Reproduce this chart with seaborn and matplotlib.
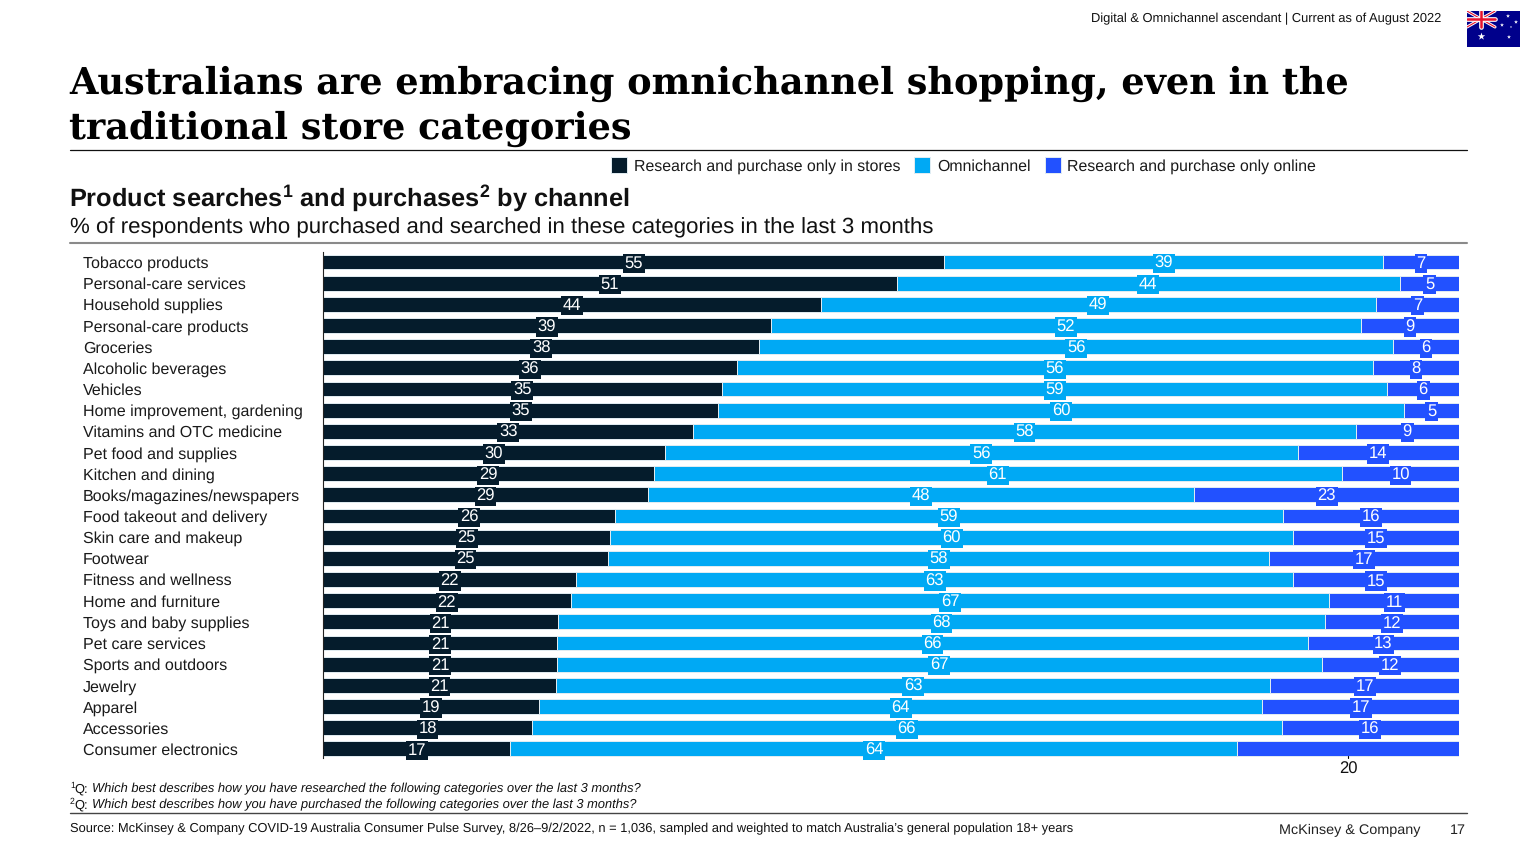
"""Omnichannel shopping slide: stacked horizontal bars by product category."""
import matplotlib
matplotlib.use("Agg")
import matplotlib.pyplot as plt
import numpy as np
import pandas as pd
import seaborn as sns

categories = [
    "Tobacco products", "Personal-care services", "Household supplies",
    "Personal-care products", "Groceries", "Alcoholic beverages", "Vehicles",
    "Home improvement, gardening", "Vitamins and OTC medicine",
    "Pet food and supplies", "Kitchen and dining", "Books/magazines/newspapers",
    "Food takeout and delivery", "Skin care and makeup", "Footwear",
    "Fitness and wellness", "Home and furniture", "Toys and baby supplies",
    "Pet care services", "Sports and outdoors", "Jewelry", "Apparel",
    "Accessories", "Consumer electronics",
]

# segment lengths as drawn in the picture
stores = [54.7, 50.5, 43.8, 39.4, 38.4, 36.4, 35.1, 34.8, 32.6, 30.1, 29.1, 28.6,
          25.7, 25.3, 25.1, 22.3, 21.8, 20.7, 20.6, 20.6, 20.5, 19.0, 18.4, 16.5]
omni = [38.6, 44.3, 48.9, 52.0, 55.8, 56.0, 58.6, 60.4, 58.3, 55.7, 60.6, 48.1,
        58.8, 60.1, 58.2, 63.1, 66.8, 67.5, 66.1, 67.3, 62.9, 63.7, 66.0, 64.0]
online = [6.7, 5.2, 7.3, 8.6, 5.8, 7.6, 6.3, 4.8, 9.1, 14.2, 10.3, 23.3,
          15.5, 14.6, 16.7, 14.6, 11.4, 11.8, 13.3, 12.1, 16.6, 17.3, 15.6, 19.5]

# printed labels
stores_labels = [55, 51, 44, 39, 38, 36, 35, 35, 33, 30, 29, 29,
                 26, 25, 25, 22, 22, 21, 21, 21, 21, 19, 18, 17]
omni_labels = [39, 44, 49, 52, 56, 56, 59, 60, 58, 56, 61, 48,
               59, 60, 58, 63, 67, 68, 66, 67, 63, 64, 66, 64]
online_labels = [7, 5, 7, 9, 6, 8, 6, 5, 9, 14, 10, 23,
                 16, 15, 17, 15, 11, 12, 13, 12, 17, 17, 16, 20]

channels = ["Research and purchase only in stores", "Omnichannel",
            "Research and purchase only online"]
colors = ["#051C2C", "#00A9F4", "#2251FF"]

W, H = 1536, 864
SANS = "Liberation Sans"


def fx(px):
    return px / W


def fy(px):
    return 1 - px / H


def rule(fig, x0, x1, y, color, lw):
    fig.add_artist(plt.Line2D([fx(x0), fx(x1)], [fy(y), fy(y)], color=color, lw=lw))


def draw_flag(fig):
    ax = fig.add_axes([fx(1467), fy(47), fx(53), 36 / H])
    ax.set_facecolor("#00008B")
    ax.set_xlim(0, 53)
    ax.set_ylim(36, 0)
    ax.set_xticks([])
    ax.set_yticks([])
    for side in ax.spines.values():
        side.set_visible(False)
    ax.plot([0, 28], [0, 16], color="white", lw=2.2)
    ax.plot([0, 28], [16, 0], color="white", lw=2.2)
    ax.plot([0, 28], [0, 16], color="#E8112D", lw=0.8)
    ax.plot([0, 28], [16, 0], color="#E8112D", lw=0.8)
    ax.plot([14, 14], [0, 16], color="white", lw=3.4)
    ax.plot([0, 28], [8, 8], color="white", lw=3.4)
    ax.plot([14, 14], [0, 16], color="#E8112D", lw=1.8)
    ax.plot([0, 28], [8, 8], color="#E8112D", lw=1.8)
    ax.scatter([14], [25], marker="*", s=32, color="white", lw=0)
    ax.scatter([41, 35, 49, 42, 44], [5, 14, 11, 26, 16], marker="*",
               s=[9, 9, 9, 9, 3], color="white", lw=0)


sns.set_theme(style="white")
plt.rcParams["font.family"] = SANS
plt.rcParams["text.hinting"] = "none"
plt.rcParams["mathtext.fontset"] = "custom"
plt.rcParams["mathtext.bf"] = "Liberation Sans:bold"
plt.rcParams["mathtext.rm"] = "Liberation Sans"

df = pd.DataFrame({"category": categories, "stores": stores, "omni": omni, "online": online})

fig = plt.figure(figsize=(W / 100, H / 100), dpi=100)
ax = fig.add_axes([fx(323), fy(758), fx(1459 - 323), (758 - 252) / H])

left = np.zeros(len(df))
for col, name, color, printed in zip(["stores", "omni", "online"], channels, colors,
                                     [stores_labels, omni_labels, online_labels]):
    sns.barplot(data=df, y="category", x=col, left=left, color=color, width=0.7,
                saturation=1, edgecolor="#E3EDF2", linewidth=0.7, label=name, ax=ax)
    mids = left + df[col].to_numpy() / 2
    for i, (mid, val) in enumerate(zip(mids, printed)):
        if i == len(categories) - 1 and col == "online":
            # no room inside the bar on this row, label sits below with a leader
            ax.plot([mid, mid], [i + 0.35, i + 0.43], color="black", lw=0.8, clip_on=False)
            ax.text(mid, i + 0.58, str(val), ha="center", va="top", fontsize=12,
                    color="#111111", clip_on=False)
            continue
        ax.text(mid, i + 0.07, str(val), ha="center", va="center", color="white", fontsize=12,
                bbox=dict(boxstyle="square,pad=0.1", fc=color, ec="none"), zorder=5)
    left = left + df[col].to_numpy()

ax.set_xlim(0, 100)
ax.set_ylim(23.43, -0.47)
ax.set_xlabel("")
ax.set_ylabel("")
ax.set_xticks([])
ax.tick_params(axis="y", length=0, pad=172.8, labelsize=11.5, labelcolor="#1a1a1a")
for lab in ax.get_yticklabels():
    lab.set_ha("left")
sns.despine(ax=ax, top=True, right=True, bottom=True)
ax.spines["left"].set_color("#222222")
ax.spines["left"].set_linewidth(0.8)

handles, labels = ax.get_legend_handles_labels()
ax.get_legend().remove()
fig.legend(handles, labels, ncol=3, frameon=False, loc="center left",
           bbox_to_anchor=(fx(597), fy(165.5)), fontsize=11.4, handlelength=1.0,
           handleheight=1.15, handletextpad=0.42, columnspacing=0.9, labelcolor="#1a1a1a")

# header, titles
fig.text(fx(1441), fy(18.5), "Digital & Omnichannel ascendant | Current as of August 2022",
         ha="right", va="center", fontsize=9.3, color="#111111")
draw_flag(fig)
fig.text(fx(69), fy(84), "Australians are embracing omnichannel shopping, even in the",
         family="DejaVu Serif", weight="bold", fontsize=26.35, va="center", color="black")
fig.text(fx(69), fy(129), "traditional store categories",
         family="DejaVu Serif", weight="bold", fontsize=26.35, va="center", color="black")
rule(fig, 70, 1467, 150, "#111111", 0.9)
fig.text(fx(69), fy(198), r"Product searches$\mathbf{^1}$ and purchases$\mathbf{^2}$ by channel",
         weight="bold", fontsize=18.3, va="center", color="#111111")
fig.text(fx(70), fy(227.5), "% of respondents who purchased and searched in these categories in the last 3 months",
         fontsize=16.07, va="center", color="#111111")
rule(fig, 70, 1467, 243, "#8A8A8A", 1.5)

# footnotes
for y, num, note in [
    (789, "1", "Which best describes how you have researched the following categories over the last 3 months?"),
    (805, "2", "Which best describes how you have purchased the following categories over the last 3 months?"),
]:
    fig.text(fx(70), fy(y - 3), num, fontsize=6.2, va="center", color="#111111")
    fig.text(fx(74), fy(y), "Q:", fontsize=9.27, va="center", color="#111111")
    fig.text(fx(92), fy(y), note, fontsize=9.27, style="italic", va="center", color="#111111")
rule(fig, 70, 1467, 813, "#444444", 1.0)
fig.text(fx(70), fy(829),
         "Source: McKinsey & Company COVID-19 Australia Consumer Pulse Survey, 8/26–9/2/2022, "
         "n = 1,036, sampled and weighted to match Australia’s general population 18+ years",
         fontsize=9.27, va="center", color="#111111")
fig.text(fx(1420), fy(830), "McKinsey & Company", ha="right", va="center", fontsize=10.4, color="#222222")
fig.text(fx(1466), fy(830), "17", ha="right", va="center", fontsize=10.4, color="#222222")

fig.savefig("out.png", dpi=100)
plt.close(fig)
